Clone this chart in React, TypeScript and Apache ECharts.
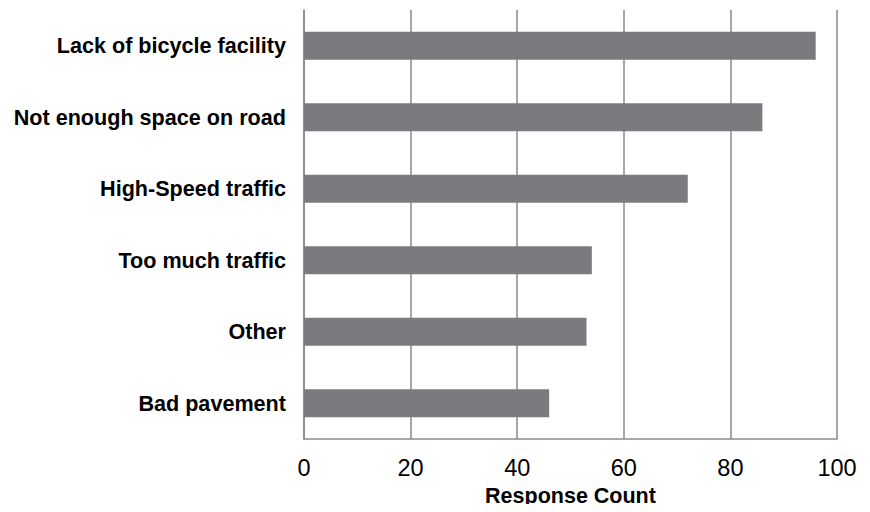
import React, { useEffect, useRef } from "react";
import * as echarts from "echarts";

const categories = [
  "Lack of bicycle facility",
  "Not enough space on road",
  "High-Speed traffic",
  "Too much traffic",
  "Other",
  "Bad pavement",
];
const responseCounts = [96, 86, 72, 54, 53, 46];
const xTicks = [0, 20, 40, 60, 80, 100];

export default function App() {
  const ref = useRef<HTMLDivElement>(null);
  useEffect(() => {
    if (!ref.current) return;
    const chart = echarts.init(ref.current, null, { renderer: "svg" });
    chart.setOption({
      animation: false,
      grid: { left: 304, right: 33, top: 10, bottom: 70, containLabel: false },
      xAxis: {
        type: "value",
        min: xTicks[0],
        max: xTicks[xTicks.length - 1],
        interval: 20,
        name: "Response Count",
        nameLocation: "middle",
        nameGap: 46,
        nameTextStyle: { fontFamily: "Liberation Sans", fontWeight: "bold", fontSize: 21.5, color: "#000" },
        axisLine: { show: true, lineStyle: { color: "#8a8a8a", width: 1.5 } },
        axisTick: { show: false },
        axisLabel: { fontFamily: "Liberation Sans", fontSize: 23.5, color: "#000", margin: 17 },
        splitLine: { show: true, lineStyle: { color: "#8a8a8a", width: 1.5 } },
      },
      yAxis: {
        type: "category",
        data: categories,
        inverse: true,
        axisLine: { show: true, lineStyle: { color: "#8a8a8a", width: 1.5 } },
        axisTick: { show: false },
        axisLabel: { fontFamily: "Liberation Sans", fontWeight: "bold", fontSize: 21.6, color: "#000", margin: 18 },
      },
      series: [
        {
          type: "bar",
          data: responseCounts,
          barWidth: 28,
          itemStyle: { color: "#7b7b7f" },
        },
      ],
    });
    return () => chart.dispose();
  }, []);
  return <div ref={ref} style={{ width: 870, height: 512, margin: -8 }} />;
}
